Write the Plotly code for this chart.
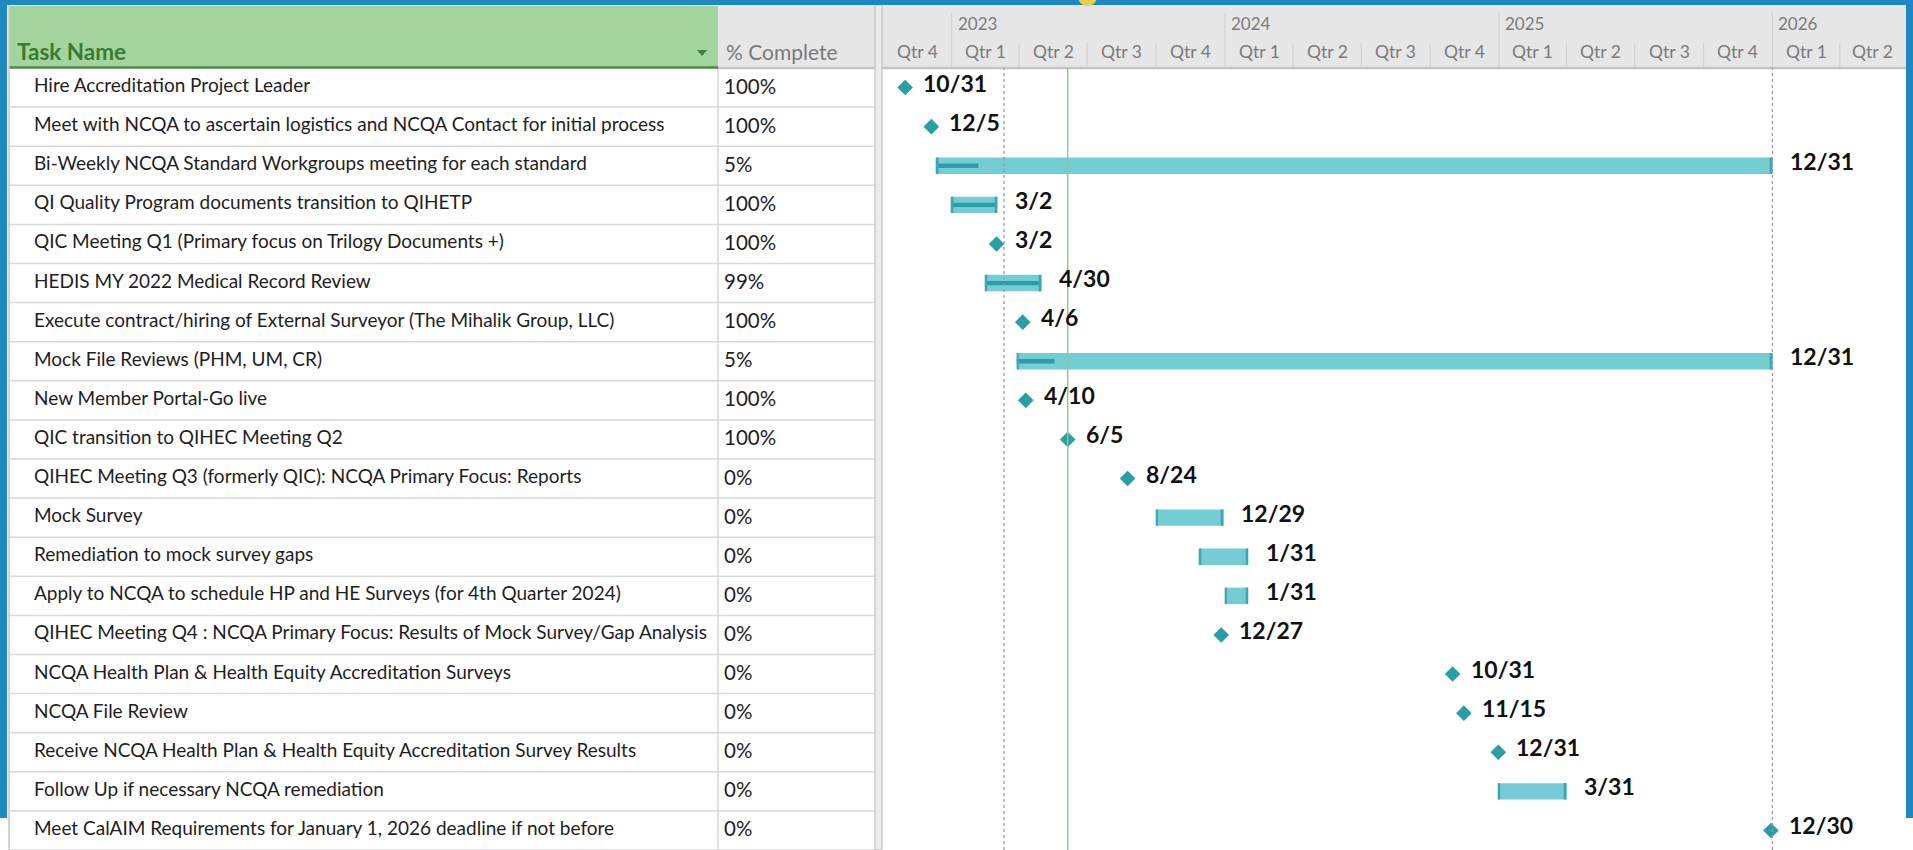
import datetime as dt
import plotly.graph_objects as go

W, H = 1913, 850

# ---- schedule data -------------------------------------------------------
task_names = [
    "Hire Accreditation Project Leader",
    "Meet with NCQA to ascertain logistics and NCQA Contact for initial process",
    "Bi-Weekly NCQA Standard Workgroups meeting for each standard",
    "QI Quality Program documents transition to QIHETP",
    "QIC Meeting Q1 (Primary focus on Trilogy Documents +)",
    "HEDIS MY 2022 Medical Record Review",
    "Execute contract/hiring of External Surveyor (The Mihalik Group, LLC)",
    "Mock File Reviews (PHM, UM, CR)",
    "New Member Portal-Go live",
    "QIC transition to QIHEC Meeting Q2",
    "QIHEC Meeting Q3 (formerly QIC): NCQA Primary Focus: Reports",
    "Mock Survey",
    "Remediation to mock survey gaps",
    "Apply to NCQA to schedule HP and HE Surveys (for 4th Quarter 2024)",
    "QIHEC Meeting Q4 : NCQA Primary Focus: Results of Mock Survey/Gap Analysis",
    "NCQA Health Plan & Health Equity Accreditation Surveys",
    "NCQA File Review",
    "Receive NCQA Health Plan & Health Equity Accreditation Survey Results",
    "Follow Up if necessary NCQA remediation",
    "Meet CalAIM Requirements for January 1, 2026 deadline if not before",
]
pct_complete = [100, 100, 5, 100, 100, 99, 100, 5, 100, 100,
                0, 0, 0, 0, 0, 0, 0, 0, 0, 0]
start_dates = [
    "2022-10-31", "2022-12-05", "2022-12-12", "2023-01-01", "2023-03-02",
    "2023-02-15", "2023-04-06", "2023-03-29", "2023-04-10", "2023-06-05",
    "2023-08-24", "2023-10-01", "2023-11-28", "2024-01-01", "2023-12-27",
    "2024-10-31", "2024-11-15", "2024-12-31", "2024-12-31", "2025-12-30",
]
finish_dates = [
    "2022-10-31", "2022-12-05", "2025-12-31", "2023-03-02", "2023-03-02",
    "2023-04-30", "2023-04-06", "2025-12-31", "2023-04-10", "2023-06-05",
    "2023-08-24", "2023-12-29", "2024-01-31", "2024-01-31", "2023-12-27",
    "2024-10-31", "2024-11-15", "2024-12-31", "2025-03-31", "2025-12-30",
]

# timescale
quarter_starts = [
    "2022-10-01", "2023-01-01", "2023-04-01", "2023-07-01", "2023-10-01",
    "2024-01-01", "2024-04-01", "2024-07-01", "2024-10-01", "2025-01-01",
    "2025-04-01", "2025-07-01", "2025-10-01", "2026-01-01", "2026-04-01",
]
quarter_labels = ["Qtr 4", "Qtr 1", "Qtr 2", "Qtr 3", "Qtr 4", "Qtr 1", "Qtr 2",
                  "Qtr 3", "Qtr 4", "Qtr 1", "Qtr 2", "Qtr 3", "Qtr 4", "Qtr 1",
                  "Qtr 2"]
year_starts = ["2023-01-01", "2024-01-01", "2025-01-01", "2026-01-01"]
year_labels = ["2023", "2024", "2025", "2026"]
view_start, view_end = "2022-10-01", "2026-06-27"
status_date = "2023-06-05"
dotted_dates = ["2023-03-12", "2026-01-01"]

# ---- styling --------------------------------------------------------------
FONT = "Lato"
BAR = "#76ccd4"
DARK = "#2a9ea7"
HEADER_GREY = "#e6e6e6"
GRID = "#d9d9d9"
FRAME = "#1e88c1"

HEADER_BOTTOM = 68
GANTT_LEFT, GANTT_RIGHT = 882.7, 1905
COL_PCT, COL_SPLIT_L, COL_SPLIT_R = 718, 875, 882


def px(x):
    return x / W


def py(y):
    return 1 - y / H


def d(s):
    return dt.datetime.strptime(s, "%Y-%m-%d")


DAY_MS = 86400000
rows = list(range(len(task_names)))
is_milestone = [s == f for s, f in zip(start_dates, finish_dates)]

fig = go.Figure()

# ---- task bars ----------------------------------------------------------
bar_rows, bar_base, bar_len, prog_len = [], [], [], []
cap_rows, cap_base = [], []
CAP_DAYS = 2.5
for r, s, f, p, m in zip(rows, start_dates, finish_dates, pct_complete, is_milestone):
    if m:
        continue
    start = d(s)
    end = d(f) + dt.timedelta(days=1)
    dur = (end - start).total_seconds() * 1000
    bar_rows.append(r)
    bar_base.append(s)
    bar_len.append(dur)
    prog_len.append(dur * p / 100)
    cap_rows += [r, r]
    cap_base += [s, (end - dt.timedelta(days=CAP_DAYS)).strftime("%Y-%m-%d %H:%M")]

fig.add_trace(go.Bar(y=bar_rows, x=bar_len, base=bar_base, orientation="h",
                     width=0.42, marker=dict(color=BAR, line=dict(width=0)),
                     hoverinfo="skip", showlegend=False))
fig.add_trace(go.Bar(y=bar_rows, x=prog_len, base=bar_base, orientation="h",
                     width=0.11, marker=dict(color=DARK, line=dict(width=0)),
                     hoverinfo="skip", showlegend=False))
fig.add_trace(go.Bar(y=cap_rows, x=[CAP_DAYS * DAY_MS] * len(cap_rows), base=cap_base,
                     orientation="h", width=0.42,
                     marker=dict(color="#3aa8b0", line=dict(width=0)),
                     hoverinfo="skip", showlegend=False))

# ---- milestones -----------------------------------------------------------
ms_rows = [r for r, m in zip(rows, is_milestone) if m]
ms_dates = [f for f, m in zip(finish_dates, is_milestone) if m]
fig.add_trace(go.Scatter(x=ms_dates, y=ms_rows, mode="markers",
                         marker=dict(symbol="diamond", size=12, color=DARK,
                                     line=dict(width=0)),
                         hoverinfo="skip", showlegend=False))

annotations = []
shapes = []

# finish-date labels
for r, f, m in zip(rows, finish_dates, is_milestone):
    fd = d(f)
    anchor = fd if m else fd + dt.timedelta(days=1)
    annotations.append(dict(
        x=anchor.strftime("%Y-%m-%d"), y=r, xref="x", yref="y",
        text=f"{fd.month}/{fd.day}", showarrow=False, xanchor="left",
        yanchor="middle", xshift=17, yshift=5, borderpad=0,
        font=dict(family=FONT, size=23, color="#111111", weight="bold")))

# ---- table ----------------------------------------------------------------
for r, name, p in zip(rows, task_names, pct_complete):
    annotations.append(dict(
        x=px(33), y=r, xref="paper", yref="y", text=name, showarrow=False,
        xanchor="left", yanchor="middle", yshift=3, borderpad=0,
        font=dict(family=FONT, size=19, color="#1e1e1e")))
    annotations.append(dict(
        x=px(723), y=r, xref="paper", yref="y", text=f"{p}%", showarrow=False,
        xanchor="left", yanchor="middle", yshift=2, borderpad=0,
        font=dict(family=FONT, size=20.5, color="#1e1e1e")))

# header backgrounds
shapes.append(dict(type="rect", xref="paper", yref="paper", x0=px(9), x1=px(1906),
                   y0=py(5), y1=py(HEADER_BOTTOM), fillcolor=HEADER_GREY,
                   line=dict(width=0), layer="below"))
shapes.append(dict(type="rect", xref="paper", yref="paper", x0=px(9), x1=px(COL_PCT),
                   y0=py(6), y1=py(HEADER_BOTTOM), fillcolor="#a4d49e",
                   line=dict(width=0), layer="below"))
shapes.append(dict(type="line", xref="paper", yref="paper", x0=px(COL_PCT), x1=px(1906),
                   y0=py(HEADER_BOTTOM), y1=py(HEADER_BOTTOM),
                   line=dict(color="#c4c4c4", width=2.5)))
shapes.append(dict(type="line", xref="paper", yref="paper", x0=px(9), x1=px(COL_PCT),
                   y0=py(HEADER_BOTTOM - 0.5), y1=py(HEADER_BOTTOM - 0.5),
                   line=dict(color="#4a8b44", width=2.5)))

# dropdown arrow in the Task Name header
shapes.append(dict(type="path", xref="paper", yref="paper",
                   path=f"M {px(697)} {py(50)} L {px(707)} {py(50)} L {px(702)} {py(56)} Z",
                   fillcolor="#3f7f39", line=dict(width=0)))

annotations.append(dict(x=px(16), y=py(52), xref="paper", yref="paper",
                        text="Task Name", showarrow=False, xanchor="left",
                        yanchor="middle", borderpad=0,
                        font=dict(family=FONT, size=22.5, color="#3b7a34",
                                  weight="bold")))
annotations.append(dict(x=px(725), y=py(52), xref="paper", yref="paper",
                        text="% Complete", showarrow=False, xanchor="left",
                        yanchor="middle", borderpad=0,
                        font=dict(family=FONT, size=21, color="#7a7a7a")))

# row separators
for r in rows:
    shapes.append(dict(type="line", xref="paper", yref="y", x0=px(9), x1=px(COL_SPLIT_L),
                       y0=r + 0.5, y1=r + 0.5, line=dict(color=GRID, width=1.5),
                       layer="below"))

# column lines and splitter
shapes.append(dict(type="line", xref="paper", yref="paper", x0=px(9), x1=px(9),
                   y0=py(5), y1=0, line=dict(color="#c6c6c6", width=1.5)))
shapes.append(dict(type="line", xref="paper", yref="paper", x0=px(COL_PCT),
                   x1=px(COL_PCT), y0=py(HEADER_BOTTOM), y1=0,
                   line=dict(color=GRID, width=1.5), layer="below"))
shapes.append(dict(type="rect", xref="paper", yref="paper", x0=px(COL_SPLIT_L),
                   x1=px(COL_SPLIT_R), y0=py(5), y1=0, fillcolor="#ebebeb",
                   line=dict(color="#c4c4c4", width=1.2)))

# ---- timescale header -----------------------------------------------------
for i, (qs, ql) in enumerate(zip(quarter_starts, quarter_labels)):
    q0 = d(qs)
    q1 = d(quarter_starts[i + 1]) if i + 1 < len(quarter_starts) else d(view_end)
    q1 = min(q1, d(view_end))
    mid = q0 + (q1 - q0) / 2
    annotations.append(dict(x=mid.strftime("%Y-%m-%d %H:%M"), y=py(51), xref="x",
                            yref="paper", text=ql, showarrow=False,
                            xanchor="center", yanchor="middle", borderpad=0,
                            font=dict(family=FONT, size=17.5, color="#7b7b7b")))
    if i > 0 and qs not in year_starts:
        shapes.append(dict(type="line", xref="x", yref="paper", x0=qs, x1=qs,
                           y0=py(43), y1=py(HEADER_BOTTOM - 1),
                           line=dict(color="#d2d2d2", width=1.2)))

for ys, yl in zip(year_starts, year_labels):
    shapes.append(dict(type="line", xref="x", yref="paper", x0=ys, x1=ys,
                       y0=py(13), y1=py(HEADER_BOTTOM - 1),
                       line=dict(color="#d2d2d2", width=1.2)))
    annotations.append(dict(x=ys, y=py(23), xref="x", yref="paper", text=yl,
                            showarrow=False, xanchor="left", yanchor="middle",
                            xshift=5, borderpad=0,
                            font=dict(family=FONT, size=17, color="#7b7b7b")))

# ---- reference lines in the chart area -------------------------------------
for dd in dotted_dates:
    shapes.append(dict(type="line", xref="x", yref="y domain", x0=dd, x1=dd,
                       y0=0, y1=1, line=dict(color="#9a9a9a", width=1.3, dash="dot"),
                       layer="above"))
shapes.append(dict(type="line", xref="x", yref="y domain", x0=status_date,
                   x1=status_date, y0=0, y1=1,
                   line=dict(color="#8fca88", width=1.5), layer="above"))

# ---- window frame ---------------------------------------------------------
shapes.append(dict(type="rect", xref="paper", yref="paper", x0=0, x1=1,
                   y0=py(5), y1=1.01, fillcolor=FRAME, line=dict(width=0),
                   layer="above"))
shapes.append(dict(type="rect", xref="paper", yref="paper", x0=-0.01, x1=px(7),
                   y0=py(818), y1=1.01, fillcolor=FRAME, line=dict(width=0),
                   layer="above"))
shapes.append(dict(type="rect", xref="paper", yref="paper", x0=px(1906), x1=1.01,
                   y0=py(818), y1=1.01, fillcolor=FRAME, line=dict(width=0),
                   layer="above"))
shapes.append(dict(type="circle", xref="paper", yref="paper", x0=px(1078), x1=px(1097),
                   y0=py(6), y1=py(-12), fillcolor="#e4d04c", line=dict(width=0),
                   layer="above"))

fig.update_layout(
    width=W, height=H,
    margin=dict(l=0, r=0, t=0, b=0),
    paper_bgcolor="white", plot_bgcolor="rgba(0,0,0,0)",
    barmode="overlay", showlegend=False,
    xaxis=dict(type="date", range=[view_start, view_end],
               domain=[px(GANTT_LEFT), px(GANTT_RIGHT)],
               showgrid=False, zeroline=False, showticklabels=False,
               showline=False, fixedrange=True),
    yaxis=dict(range=[len(rows) - 0.5, -0.5], domain=[0, py(HEADER_BOTTOM)],
               showgrid=False, zeroline=False, showticklabels=False,
               showline=False, fixedrange=True),
    shapes=shapes, annotations=annotations,
)

fig.write_html("out.html")
